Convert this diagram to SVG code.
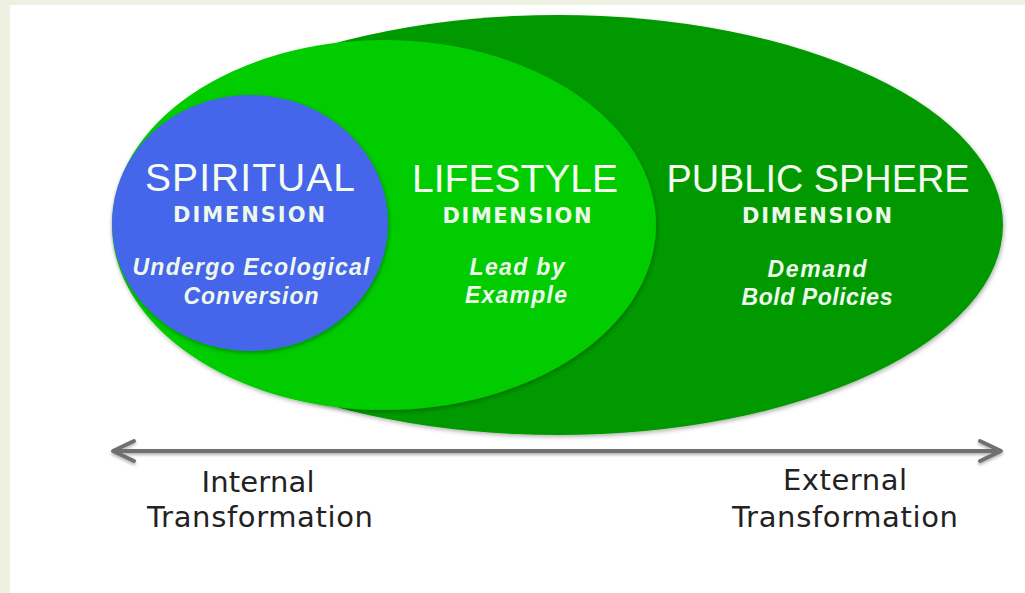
<svg xmlns="http://www.w3.org/2000/svg" width="1025" height="593" viewBox="0 0 1025 593">
  <style>
    .head { font-family: "Liberation Sans", Arial, sans-serif; font-size: 39px; fill: #f4fcf0; text-anchor: middle; }
    .dim { font-family: "DejaVu Sans", Verdana, sans-serif; font-size: 21px; font-weight: bold; fill: #eef8ea; text-anchor: middle; }
    .sub { font-family: "Liberation Sans", Arial, sans-serif; font-size: 23px; font-weight: bold; font-style: italic; fill: #eef8ea; text-anchor: middle; }
    .axis { font-family: "DejaVu Sans", Verdana, sans-serif; font-size: 29px; fill: #222222; text-anchor: middle; }
  </style>
  <defs>
    <filter id="shadow" x="-10%" y="-10%" width="120%" height="125%">
      <feDropShadow dx="1" dy="2" stdDeviation="2" flood-color="#000" flood-opacity="0.3"/>
    </filter>
    <filter id="lineshadow" filterUnits="userSpaceOnUse" x="90" y="430" width="935" height="45">
      <feDropShadow dx="0" dy="2" stdDeviation="1.5" flood-color="#000" flood-opacity="0.3"/>
    </filter>
    <marker id="chev" viewBox="-28 -14 32 28" refX="0" refY="0" markerWidth="32" markerHeight="28" markerUnits="userSpaceOnUse" orient="auto-start-reverse">
      <path d="M-21,-10 L0,0 L-21,10" fill="none" stroke="#707070" stroke-width="4" stroke-linejoin="round" stroke-linecap="round"/>
    </marker>
  </defs>

  <rect x="0" y="0" width="1025" height="593" fill="#eef1e2"/>
  <rect x="10" y="5" width="1015" height="588" fill="#ffffff"/>

  <g id="public-sphere">
    <ellipse cx="558" cy="225" rx="445" ry="210" fill="#069a06" filter="url(#shadow)"/>
    <text class="head" x="818" y="192" textLength="303" lengthAdjust="spacingAndGlyphs">PUBLIC SPHERE</text>
    <text class="dim" x="817" y="223" textLength="150">DIMENSION</text>
    <text class="sub" x="817" y="277" textLength="99">Demand</text>
    <text class="sub" x="817" y="305" textLength="151">Bold Policies</text>
  </g>

  <g id="lifestyle">
    <ellipse cx="384" cy="225" rx="272" ry="185" fill="#03cc03" filter="url(#shadow)"/>
    <text class="head" x="515" y="192" textLength="206">LIFESTYLE</text>
    <text class="dim" x="517" y="223" textLength="149">DIMENSION</text>
    <text class="sub" x="517" y="275" textLength="95">Lead by</text>
    <text class="sub" x="516" y="303" textLength="102">Example</text>
  </g>

  <g id="spiritual">
    <ellipse cx="250" cy="223" rx="138" ry="128" fill="#4465ea" filter="url(#shadow)"/>
    <text class="head" x="250" y="191" textLength="210">SPIRITUAL</text>
    <text class="dim" x="249" y="222" textLength="152">DIMENSION</text>
    <text class="sub" x="251" y="275" textLength="237">Undergo Ecological</text>
    <text class="sub" x="251" y="304" textLength="135">Conversion</text>
  </g>

  <g id="connectors" filter="url(#lineshadow)">
    <path d="M113,451 H1001" fill="none" stroke="#707070" stroke-width="4" marker-start="url(#chev)" marker-end="url(#chev)"/>
  </g>

  <g id="internal">
    <text class="axis" x="258" y="492" textLength="113">Internal</text>
    <text class="axis" x="260" y="527" textLength="226">Transformation</text>
  </g>

  <g id="external">
    <text class="axis" x="845" y="490" textLength="124">External</text>
    <text class="axis" x="845" y="527" textLength="226">Transformation</text>
  </g>
</svg>
